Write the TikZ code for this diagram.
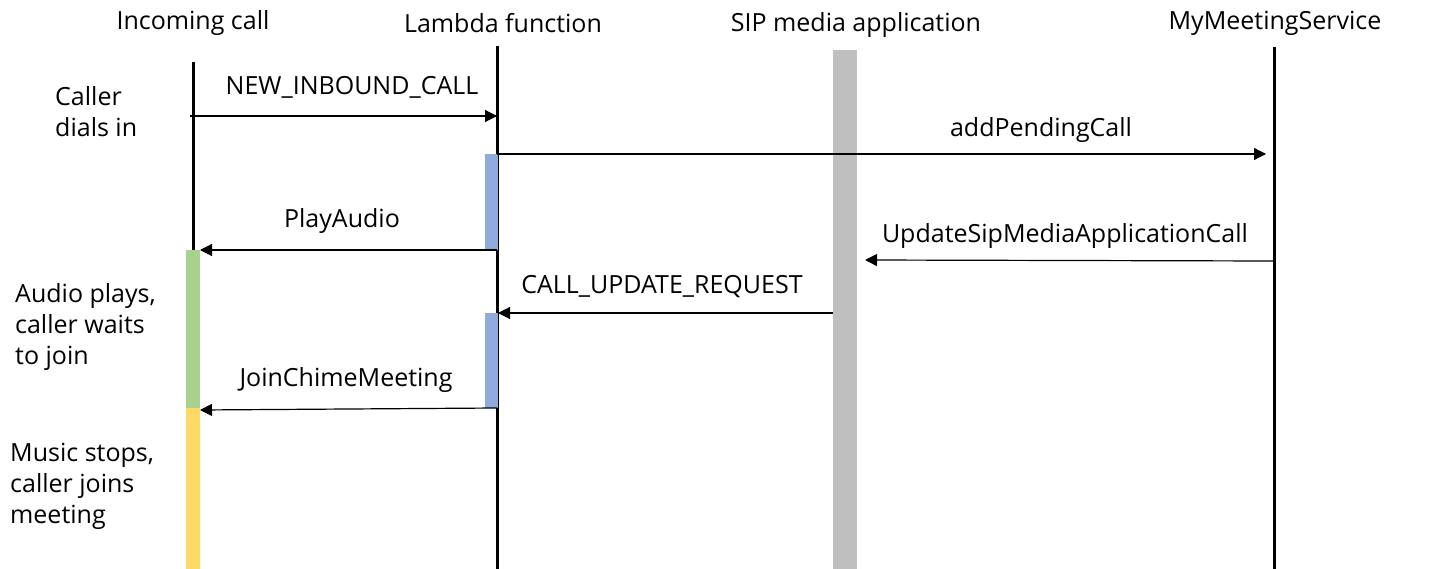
\documentclass[tikz,border=0pt]{standalone}
\usepackage{fontspec}
\setmainfont{Open Sans}
\usetikzlibrary{arrows.meta}

\definecolor{actblue}{HTML}{8FAADC}
\definecolor{actgreen}{HTML}{A9D18E}
\definecolor{actyellow}{HTML}{FFD966}
\definecolor{sipgray}{HTML}{BFBFBF}

\begin{document}
\begin{tikzpicture}[x=1pt,y=-1pt]
        \tikzset{head/.style = {font=\fontsize{25}{30}\selectfont, inner sep=0pt}}
        \tikzset{msg/.style = {font=\fontsize{25}{30}\selectfont, inner sep=0pt}}
        \tikzset{note/.style = {font=\fontsize{25}{31}\selectfont, align=left, anchor=west, inner sep=0pt}}
        \tikzset{life/.style = {line width=3pt}}
        \tikzset{edge/.style = {-{Triangle[length=12pt,width=12pt]}, line width=1.2pt}}

        \useasboundingbox (0,0) rectangle (1432,569);

        \node[head] (IC) at (193,23) {Incoming call};
        \node[head] (LF) at (503,23) {Lambda function};
        \node[head] (SIP) at (856,25) {SIP media application};
        \node[head] (MMS) at (1275,23) {MyMeetingService};

        % lifelines
        \coordinate (ICtop) at (193,62);
        \coordinate (ICbot) at (193,569);
        \coordinate (LFtop) at (497,46);
        \coordinate (LFbot) at (497,569);
        \coordinate (MMStop) at (1274,47);
        \coordinate (MMSbot) at (1274,569);

        \fill[sipgray] (833,50) rectangle (857,569);
        \draw[life] (ICtop) to (ICbot);
        \draw[life] (LFtop) to (LFbot);
        \draw[life] (MMStop) to (MMSbot);

        % activation bars
        \fill[actblue] (485,154) rectangle (498,250);
        \fill[actblue] (485,313) rectangle (498,408);
        \fill[actgreen] (186,250) rectangle (200,408);
        \fill[actyellow] (186,408) rectangle (200,569);

        % message ends
        \coordinate (m1a) at (190,116);
        \coordinate (m1b) at (497,116);
        \coordinate (m2a) at (497,154);
        \coordinate (m2b) at (1266,154);
        \coordinate (m3a) at (497,250);
        \coordinate (m3b) at (200,250);
        \coordinate (m4a) at (1274,261);
        \coordinate (m4b) at (865,260);
        \coordinate (m5a) at (833,313);
        \coordinate (m5b) at (498,313);
        \coordinate (m6a) at (497,408);
        \coordinate (m6b) at (200,410);

        \draw[edge] (m1a) to (m1b);
        \draw[edge] (m2a) to (m2b);
        \draw[edge] (m3a) to (m3b);
        \draw[edge] (m4a) to (m4b);
        \draw[edge] (m5a) to (m5b);
        \draw[edge] (m6a) to (m6b);

        \node[msg] (L1) at (352,87) {NEW\_INBOUND\_CALL};
        \node[msg] (L2) at (1041,130) {addPendingCall};
        \node[msg] (L3) at (342,221) {PlayAudio};
        \node[msg] (L4) at (1065,236) {UpdateSipMediaApplicationCall};
        \node[msg] (L5) at (662,287) {CALL\_UPDATE\_REQUEST};
        \node[msg] (L6) at (346,380) {JoinChimeMeeting};

        \node[note] (N1) at (55,112) {Caller\\dials in};
        \node[note] (N2) at (15,327) {Audio plays,\\caller waits\\to join};
        \node[note] (N3) at (10,486) {Music stops,\\caller joins\\meeting};
\end{tikzpicture}
\end{document}
